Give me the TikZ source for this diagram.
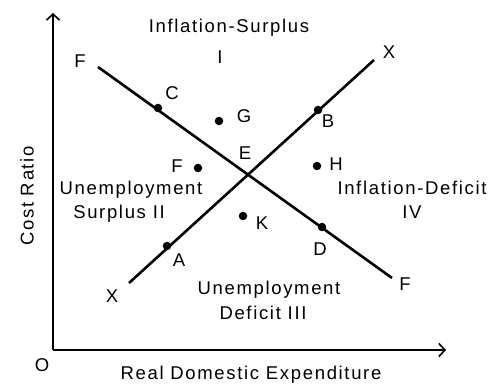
\documentclass[tikz,border=0pt]{standalone}
\usepackage{fontspec}
\setmainfont[LetterSpace=9]{Liberation Sans}
\usetikzlibrary{arrows.meta}
\begin{document}
\begin{tikzpicture}[x=1pt,y=-1pt,
  lbl/.style={font=\fontsize{18.5}{21}\selectfont, inner sep=0pt},
  reg/.style={lbl, anchor=base},
  axis/.style={line width=1.6pt, -{Straight Barb[length=6pt,width=13pt,line width=1.6pt]}},
  curve/.style={line width=2.6pt},
  pt/.style={circle, fill=black, minimum size=8.5pt, inner sep=0pt}]
\useasboundingbox (0,0) rectangle (504,387);
% axes
\coordinate (O) at (53,350);
\coordinate (ytop) at (53,13);
\coordinate (xend) at (446,350);
\draw[axis] (O) -- (ytop);
\draw[axis] (O) -- (xend);
% lines
\coordinate (F1) at (98,67);
\coordinate (F2) at (392,278);
\coordinate (X1) at (129,283);
\coordinate (X2) at (374,60);
\draw[curve] (F1) -- (F2);
\draw[curve] (X1) -- (X2);
% dots
\node[pt] (A) at (167,246) {};
\node[pt] (B) at (318,110) {};
\node[pt] (C) at (158,108) {};
\node[pt] (D) at (322,227) {};
\node[pt] (G) at (219,121) {};
\node[pt] (Fd) at (198,168) {};
\node[pt] (H) at (317,166) {};
\node[pt] (K) at (243,216) {};
% point labels
\node[lbl] (lA) at (179,260) {A};
\node[lbl] (lB) at (328,121) {B};
\node[lbl] (lC) at (172,93) {C};
\node[lbl] (lD) at (320,249) {D};
\node[lbl] (lE) at (245,153) {E};
\node[lbl] (lF) at (177,166) {F};
\node[lbl] (lG) at (244,116) {G};
\node[lbl] (lH) at (336,164) {H};
\node[lbl] (lK) at (262,223) {K};
\node[lbl] (lF1) at (80,61) {F};
\node[lbl] (lF2) at (405,284) {F};
\node[lbl] (lX1) at (112,296) {X};
\node[lbl] (lX2) at (389,52) {X};
\node[reg] (lO) at (42,372) {O};
% region labels
\node[reg] (r1a) at (229,33) {Inflation-Surplus};
\node[reg] (r1b) at (220,64) {I};
\node[reg] (r2a) at (131,195) {Unemployment};
\node[reg] (r2b) at (119,219) {Surplus II};
\node[reg] (r4a) at (412,195) {Inflation-Deficit};
\node[reg] (r4b) at (412,219) {IV};
\node[reg] (r3a) at (269,295) {Unemployment};
\node[reg] (r3b) at (263,320) {Deficit III};
% axis labels
\node[reg] (xl) at (251,380) {Real Domestic Expenditure};
\node[lbl, rotate=90] (yl) at (27,196) {Cost Ratio};
\end{tikzpicture}
\end{document}
